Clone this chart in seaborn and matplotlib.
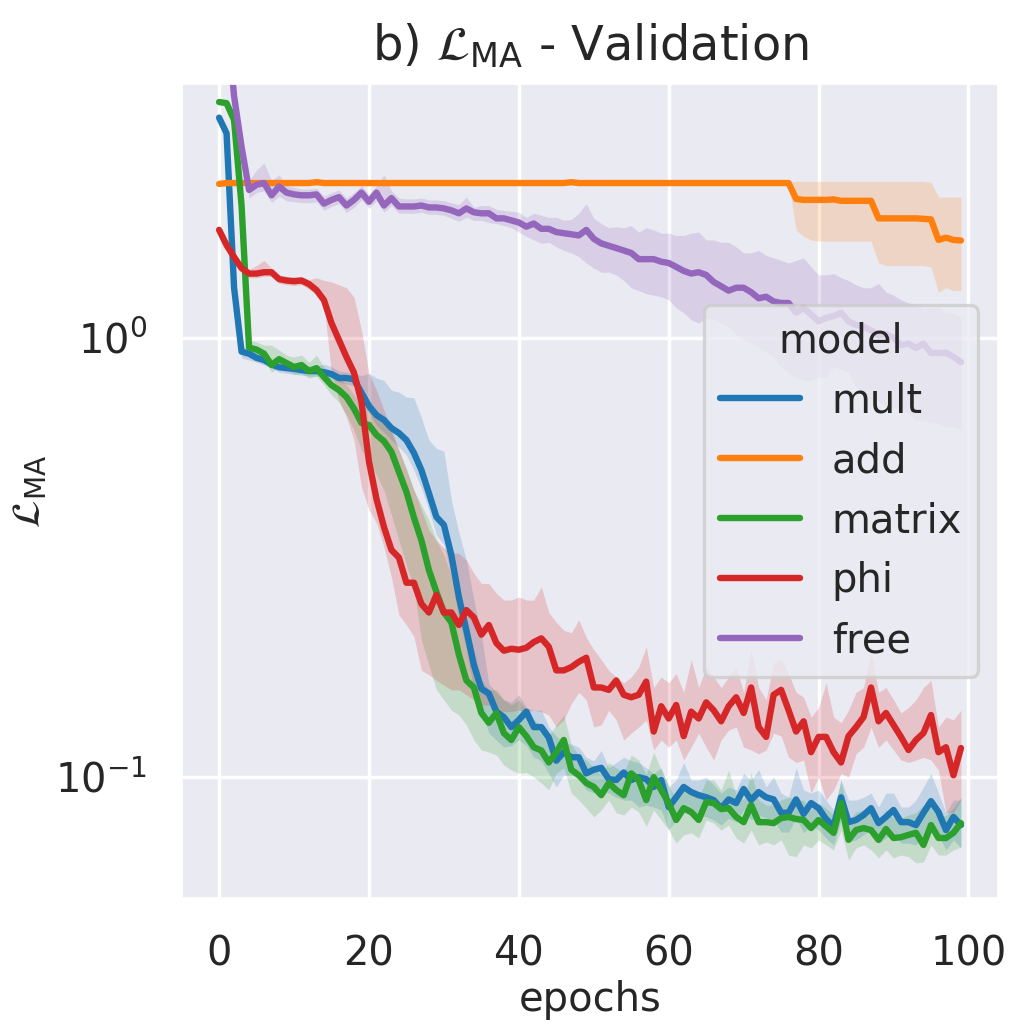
import numpy as np
import pandas as pd
import matplotlib
matplotlib.use("Agg")
import matplotlib.pyplot as plt
import seaborn as sns

sns.set_theme(style="darkgrid", font_scale=2.4, rc={
    "xtick.labelsize": 28.8, "ytick.labelsize": 28.8,
    "axes.labelsize": 28.8, "legend.fontsize": 28.8,
    "legend.title_fontsize": 28.8, "grid.linewidth": 2.5,
    "xtick.major.pad": 20, "ytick.major.pad": 19,
})

MODELS = ["mult", "add", "matrix", "phi", "free"]
COLORS = sns.color_palette("tab10", 5)
epochs = np.arange(100)

# --- validation loss per model: median line, band low / band high ---
mult_mid = [3.17, 2.92, 1.30, 0.93, 0.92, 0.90, 0.89, 0.87, 0.857, 0.853,
            0.85, 0.844, 0.84, 0.84, 0.835, 0.827, 0.81, 0.81, 0.805, 0.75,
            0.70, 0.667, 0.65, 0.623, 0.607, 0.585, 0.547, 0.50, 0.443, 0.391,
            0.375, 0.32, 0.257, 0.216, 0.18, 0.159, 0.155, 0.141, 0.137, 0.13,
            0.135, 0.141, 0.13, 0.13, 0.123, 0.109, 0.114, 0.111, 0.111, 0.102,
            0.104, 0.105, 0.099, 0.0985, 0.1025, 0.0985, 0.1, 0.099, 0.095, 0.0985,
            0.0855, 0.09, 0.095, 0.0925, 0.091, 0.09, 0.0887, 0.085, 0.089, 0.0873,
            0.094, 0.0887, 0.0925, 0.09, 0.089, 0.083, 0.083, 0.089, 0.0825, 0.0873,
            0.085, 0.0803, 0.0773, 0.09, 0.079, 0.0799, 0.082, 0.085, 0.0786, 0.0812,
            0.0842, 0.079, 0.079, 0.0778, 0.083, 0.0882, 0.0833, 0.0758, 0.0812, 0.0778]
mult_hi = [3.2, 2.95, 1.32, 0.955, 0.945, 0.925, 0.915, 0.895, 0.88, 0.876,
           0.873, 0.867, 0.863, 0.863, 0.87, 0.86, 0.84, 0.835, 0.83, 0.82,
           0.83, 0.81, 0.80, 0.76, 0.752, 0.733, 0.73, 0.657, 0.585, 0.56,
           0.552, 0.427, 0.36, 0.312, 0.253, 0.211, 0.163, 0.156, 0.15, 0.148,
           0.154, 0.144, 0.142, 0.142, 0.13, 0.124, 0.12, 0.119, 0.117, 0.111,
           0.109, 0.115, 0.105, 0.108, 0.111, 0.109, 0.108, 0.105, 0.102, 0.105,
           0.095, 0.0985, 0.108, 0.0985, 0.0985, 0.1, 0.096, 0.092, 0.095, 0.0935,
           0.102, 0.0985, 0.104, 0.095, 0.1, 0.092, 0.09, 0.105, 0.0935, 0.092,
           0.0935, 0.0887, 0.0842, 0.0985, 0.0887, 0.0887, 0.09, 0.092, 0.0855, 0.092,
           0.092, 0.0855, 0.0855, 0.0887, 0.095, 0.102, 0.092, 0.083, 0.0887, 0.0887]
mult_lo = [3.14, 2.89, 1.28, 0.90, 0.89, 0.88, 0.867, 0.853, 0.835, 0.83,
           0.826, 0.822, 0.818, 0.818, 0.814, 0.805, 0.793, 0.785, 0.777, 0.72,
           0.674, 0.633, 0.61, 0.585, 0.564, 0.541, 0.50, 0.455, 0.406, 0.356,
           0.338, 0.288, 0.23, 0.195, 0.158, 0.142, 0.126, 0.1215, 0.117, 0.118,
           0.1215, 0.118, 0.111, 0.109, 0.102, 0.095, 0.101, 0.101, 0.1, 0.0935,
           0.092, 0.0935, 0.092, 0.09, 0.0887, 0.0887, 0.0855, 0.0864, 0.0855, 0.0842,
           0.0758, 0.0799, 0.083, 0.082, 0.082, 0.0812, 0.0799, 0.0778, 0.0807, 0.079,
           0.0842, 0.0799, 0.082, 0.0807, 0.0799, 0.075, 0.075, 0.0807, 0.0747, 0.0778,
           0.0758, 0.0727, 0.0701, 0.0799, 0.0712, 0.072, 0.0739, 0.0758, 0.0708, 0.0727,
           0.075, 0.0708, 0.0708, 0.0701, 0.0739, 0.0778, 0.0739, 0.0683, 0.072, 0.069]

add_mid = [2.24, 2.25, 2.25, 2.25, 2.25, 2.25, 2.25, 2.25, 2.25, 2.25,
           2.25, 2.25, 2.25, 2.26, 2.25, 2.25, 2.25, 2.25, 2.25, 2.25,
           2.25, 2.25, 2.25, 2.25, 2.25, 2.25, 2.25, 2.25, 2.25, 2.25,
           2.25, 2.25, 2.25, 2.25, 2.25, 2.25, 2.25, 2.25, 2.25, 2.25,
           2.25, 2.25, 2.25, 2.25, 2.25, 2.25, 2.25, 2.26, 2.25, 2.25,
           2.25, 2.25, 2.25, 2.25, 2.25, 2.25, 2.25, 2.25, 2.25, 2.25,
           2.25, 2.25, 2.25, 2.25, 2.25, 2.25, 2.25, 2.25, 2.25, 2.25,
           2.25, 2.25, 2.25, 2.25, 2.25, 2.25, 2.25, 2.07, 2.06, 2.06,
           2.06, 2.06, 2.065, 2.05, 2.05, 2.05, 2.05, 2.05, 1.87, 1.87,
           1.87, 1.87, 1.87, 1.87, 1.865, 1.86, 1.67, 1.69, 1.67, 1.665]
add_hi = [2.26, 2.26, 2.26, 2.26, 2.26, 2.26, 2.26, 2.26, 2.26, 2.26,
          2.26, 2.26, 2.26, 2.27, 2.26, 2.26, 2.26, 2.26, 2.26, 2.26,
          2.26, 2.26, 2.26, 2.26, 2.26, 2.26, 2.26, 2.26, 2.26, 2.26,
          2.26, 2.26, 2.26, 2.26, 2.26, 2.26, 2.26, 2.26, 2.26, 2.26,
          2.26, 2.26, 2.26, 2.26, 2.26, 2.26, 2.26, 2.27, 2.26, 2.26,
          2.26, 2.26, 2.26, 2.26, 2.26, 2.26, 2.26, 2.26, 2.26, 2.26,
          2.26, 2.26, 2.26, 2.26, 2.26, 2.26, 2.26, 2.26, 2.26, 2.26,
          2.26, 2.26, 2.26, 2.26, 2.26, 2.26, 2.26, 2.27, 2.27, 2.27,
          2.27, 2.27, 2.27, 2.27, 2.27, 2.27, 2.27, 2.27, 2.27, 2.27,
          2.27, 2.27, 2.27, 2.27, 2.27, 2.26, 2.09, 2.09, 2.09, 2.09]
add_lo = [2.23, 2.24, 2.24, 2.24, 2.24, 2.24, 2.24, 2.24, 2.24, 2.24,
          2.24, 2.24, 2.24, 2.25, 2.24, 2.24, 2.24, 2.24, 2.24, 2.24,
          2.24, 2.24, 2.24, 2.24, 2.24, 2.24, 2.24, 2.24, 2.24, 2.24,
          2.24, 2.24, 2.24, 2.24, 2.24, 2.24, 2.24, 2.24, 2.24, 2.24,
          2.24, 2.24, 2.24, 2.24, 2.24, 2.24, 2.24, 2.25, 2.24, 2.24,
          2.24, 2.24, 2.24, 2.24, 2.24, 2.24, 2.24, 2.24, 2.24, 2.24,
          2.24, 2.24, 2.24, 2.24, 2.24, 2.24, 2.24, 2.24, 2.24, 2.24,
          2.24, 2.24, 2.24, 2.24, 2.24, 2.24, 2.24, 1.76, 1.70, 1.67,
          1.66, 1.66, 1.66, 1.66, 1.66, 1.66, 1.66, 1.66, 1.48, 1.46,
          1.46, 1.46, 1.46, 1.46, 1.46, 1.45, 1.27, 1.30, 1.28, 1.28]

matrix_mid = [3.44, 3.42, 3.13, 2.0, 0.95, 0.94, 0.92, 0.867, 0.894, 0.876,
              0.858, 0.867, 0.84, 0.853, 0.814, 0.78, 0.76, 0.733, 0.69, 0.64,
              0.633, 0.601, 0.582, 0.55, 0.495, 0.446, 0.39, 0.346, 0.296, 0.264,
              0.237, 0.225, 0.19, 0.166, 0.16, 0.14, 0.133, 0.14, 0.126, 0.1215,
              0.13, 0.124, 0.117, 0.115, 0.108, 0.114, 0.1215, 0.104, 0.101, 0.097,
              0.095, 0.091, 0.097, 0.0935, 0.091, 0.102, 0.0985, 0.0887, 0.1, 0.0935,
              0.0873, 0.0799, 0.085, 0.0833, 0.0799, 0.0878, 0.0873, 0.0846, 0.085, 0.0812,
              0.079, 0.0864, 0.079, 0.079, 0.0786, 0.0807, 0.0812, 0.0803, 0.0799, 0.0766,
              0.0799, 0.0773, 0.0747, 0.0873, 0.072, 0.0758, 0.0766, 0.0758, 0.072, 0.0762,
              0.0727, 0.073, 0.0739, 0.0747, 0.0701, 0.0778, 0.0727, 0.0727, 0.0747, 0.0786]
matrix_hi = [3.48, 3.46, 3.2, 2.1, 0.988, 0.978, 0.962, 0.962, 0.938, 0.913,
             0.904, 0.913, 0.88, 0.913, 0.857, 0.83, 0.81, 0.781, 0.741, 0.703,
             0.685, 0.657, 0.633, 0.61, 0.555, 0.505, 0.45, 0.416, 0.385, 0.346,
             0.32, 0.288, 0.253, 0.216, 0.195, 0.166, 0.158, 0.158, 0.15, 0.146,
             0.15, 0.142, 0.135, 0.1315, 0.1247, 0.1315, 0.1385, 0.1184, 0.1123, 0.1094,
             0.105, 0.1012, 0.108, 0.105, 0.1025, 0.1123, 0.1094, 0.1012, 0.114, 0.1038,
             0.096, 0.0887, 0.0935, 0.0935, 0.0895, 0.0985, 0.0985, 0.0935, 0.1038, 0.0911,
             0.0887, 0.1025, 0.0887, 0.0864, 0.0864, 0.0887, 0.09, 0.0887, 0.0887, 0.0842,
             0.0873, 0.085, 0.082, 0.0985, 0.0799, 0.0833, 0.0842, 0.0833, 0.0799, 0.0842,
             0.0807, 0.0807, 0.082, 0.083, 0.0864, 0.0887, 0.0807, 0.082, 0.085, 0.09]
matrix_lo = [3.4, 3.38, 3.06, 1.9, 0.913, 0.904, 0.89, 0.835, 0.857, 0.844,
             0.826, 0.83, 0.81, 0.818, 0.781, 0.741, 0.714, 0.667, 0.617, 0.555,
             0.527, 0.487, 0.45, 0.395, 0.346, 0.304, 0.27, 0.205, 0.18, 0.158,
             0.15, 0.142, 0.1385, 0.1315, 0.1215, 0.1153, 0.114, 0.1123, 0.1066, 0.1038,
             0.102, 0.1025, 0.1, 0.097, 0.0935, 0.102, 0.105, 0.092, 0.0887, 0.085,
             0.0812, 0.0842, 0.0887, 0.083, 0.082, 0.0855, 0.0833, 0.0773, 0.0842, 0.0799,
             0.0758, 0.0708, 0.0739, 0.0747, 0.0727, 0.0799, 0.0786, 0.0758, 0.0778, 0.0727,
             0.0708, 0.0758, 0.0701, 0.0712, 0.0701, 0.072, 0.0665, 0.0659, 0.0701, 0.069,
             0.072, 0.0701, 0.0683, 0.0758, 0.0648, 0.069, 0.0701, 0.0683, 0.0655, 0.0683,
             0.0655, 0.0665, 0.0659, 0.0638, 0.0641, 0.0701, 0.0665, 0.0665, 0.0683, 0.0694]

phi_mid = [1.76, 1.625, 1.527, 1.44, 1.40, 1.40, 1.41, 1.41, 1.36, 1.35,
           1.345, 1.35, 1.325, 1.284, 1.218, 1.08, 0.988, 0.904, 0.833, 0.715,
           0.523, 0.43, 0.371, 0.329, 0.316, 0.277, 0.277, 0.248, 0.237, 0.26,
           0.237, 0.237, 0.222, 0.24, 0.231, 0.211, 0.222, 0.202, 0.194, 0.196,
           0.195, 0.197, 0.203, 0.207, 0.198, 0.175, 0.175, 0.178, 0.183, 0.187,
           0.16, 0.16, 0.158, 0.166, 0.154, 0.152, 0.154, 0.165, 0.127, 0.145,
           0.136, 0.146, 0.124, 0.141, 0.136, 0.148, 0.142, 0.134, 0.145, 0.152,
           0.14, 0.16, 0.13, 0.1235, 0.154, 0.158, 0.142, 0.127, 0.134, 0.114,
           0.1235, 0.1235, 0.114, 0.108, 0.124, 0.13, 0.137, 0.16, 0.134, 0.14,
           0.1315, 0.1235, 0.1153, 0.1215, 0.126, 0.1385, 0.114, 0.117, 0.101, 0.1165]
phi_hi = [1.8, 1.66, 1.56, 1.47, 1.43, 1.46, 1.50, 1.44, 1.39, 1.38,
          1.375, 1.38, 1.355, 1.37, 1.35, 1.34, 1.32, 1.30, 1.237, 1.04,
          0.83, 0.76, 0.685, 0.617, 0.555, 0.50, 0.45, 0.406, 0.365, 0.346,
          0.332, 0.325, 0.323, 0.312, 0.291, 0.276, 0.276, 0.262, 0.253, 0.253,
          0.257, 0.253, 0.253, 0.271, 0.237, 0.225, 0.216, 0.213, 0.228, 0.208,
          0.195, 0.185, 0.175, 0.169, 0.164, 0.169, 0.178, 0.198, 0.16, 0.169,
          0.164, 0.172, 0.156, 0.185, 0.16, 0.178, 0.169, 0.16, 0.169, 0.178,
          0.156, 0.195, 0.16, 0.15, 0.182, 0.185, 0.172, 0.156, 0.152, 0.137,
          0.144, 0.164, 0.137, 0.133, 0.142, 0.156, 0.16, 0.192, 0.156, 0.16,
          0.15, 0.14, 0.144, 0.15, 0.16, 0.166, 0.13, 0.137, 0.135, 0.142]
phi_lo = [1.72, 1.59, 1.5, 1.41, 1.37, 1.37, 1.38, 1.38, 1.33, 1.32,
          1.315, 1.32, 1.29, 1.25, 1.19, 0.83, 0.721, 0.66, 0.585, 0.457,
          0.406, 0.379, 0.334, 0.285, 0.234, 0.222, 0.209, 0.175, 0.171, 0.166,
          0.162, 0.158, 0.158, 0.154, 0.15, 0.146, 0.146, 0.142, 0.141, 0.141,
          0.142, 0.141, 0.142, 0.141, 0.1385, 0.13, 0.135, 0.147, 0.156, 0.15,
          0.13, 0.1315, 0.142, 0.135, 0.1215, 0.126, 0.13, 0.135, 0.1153, 0.1215,
          0.117, 0.1215, 0.1094, 0.117, 0.126, 0.117, 0.1094, 0.1215, 0.128, 0.13,
          0.117, 0.1153, 0.113, 0.1153, 0.126, 0.124, 0.111, 0.108, 0.1094, 0.092,
          0.1, 0.0887, 0.0935, 0.102, 0.1, 0.113, 0.117, 0.13, 0.117, 0.1215,
          0.1153, 0.1094, 0.108, 0.1094, 0.111, 0.1094, 0.1038, 0.083, 0.083, 0.0887]

free_mid = [12.0, 5.5, 3.55, 2.72, 2.17, 2.23, 2.25, 2.11, 2.21, 2.14,
            2.12, 2.11, 2.11, 2.12, 2.02, 2.06, 2.09, 2.0, 2.06, 2.14,
            2.04, 2.14, 2.0, 2.08, 1.99, 1.99, 1.99, 2.0, 1.98, 1.98,
            1.97, 1.95, 1.92, 1.97, 1.93, 1.92, 1.92, 1.87, 1.87, 1.85,
            1.83, 1.79, 1.82, 1.77, 1.77, 1.74, 1.73, 1.72, 1.71, 1.76,
            1.68, 1.64, 1.62, 1.6, 1.58, 1.56, 1.51, 1.51, 1.51, 1.49,
            1.48, 1.45, 1.42, 1.40, 1.41, 1.39, 1.34, 1.31, 1.28, 1.3,
            1.3, 1.27, 1.23, 1.24, 1.21, 1.2, 1.2, 1.14, 1.17, 1.13,
            1.09, 1.11, 1.12, 1.14, 1.09, 1.07, 1.06, 1.04, 1.014, 1.02,
            1.0, 0.962, 0.97, 0.947, 0.97, 0.923, 0.923, 0.925, 0.905, 0.88]
free_hi = [12.3, 5.6, 3.62, 2.8, 2.28, 2.41, 2.5, 2.28, 2.35, 2.22,
           2.2, 2.18, 2.18, 2.19, 2.1, 2.14, 2.17, 2.08, 2.14, 2.22,
           2.12, 2.22, 2.35, 2.16, 2.08, 2.07, 2.07, 2.08, 2.06, 2.06,
           2.05, 2.03, 2.01, 2.09, 1.98, 2.0, 2.0, 1.96, 1.95, 1.94,
           1.93, 1.88, 1.92, 1.9, 1.88, 1.88, 1.85, 1.86, 1.92, 2.02,
           1.87, 1.82, 1.78, 1.79, 1.78, 1.8, 1.74, 1.78, 1.76, 1.73,
           1.73, 1.71, 1.71, 1.73, 1.74, 1.67, 1.67, 1.65, 1.65, 1.61,
           1.56, 1.56, 1.58, 1.54, 1.52, 1.5, 1.48, 1.5, 1.52, 1.45,
           1.39, 1.39, 1.4, 1.37, 1.35, 1.32, 1.30, 1.30, 1.33, 1.27,
           1.25, 1.22, 1.2, 1.19, 1.16, 1.17, 1.175, 1.14, 1.14, 1.11]
free_lo = [11.7, 5.4, 3.48, 2.65, 2.08, 2.14, 2.16, 2.03, 2.1, 2.05,
           2.04, 2.03, 2.03, 2.04, 1.95, 1.99, 2.02, 1.93, 1.98, 2.06,
           1.97, 2.05, 1.93, 2.0, 1.92, 1.92, 1.92, 1.93, 1.91, 1.91,
           1.9, 1.87, 1.84, 1.88, 1.85, 1.85, 1.83, 1.82, 1.8, 1.78,
           1.74, 1.7, 1.67, 1.64, 1.65, 1.61, 1.58, 1.56, 1.53, 1.48,
           1.44, 1.41, 1.41, 1.39, 1.35, 1.30, 1.28, 1.26, 1.25, 1.24,
           1.22, 1.17, 1.14, 1.10, 1.08, 1.11, 1.1, 1.08, 1.06, 1.02,
           0.988, 0.978, 0.952, 0.928, 0.904, 0.858, 0.831, 0.814, 0.80, 0.80,
           0.814, 0.814, 0.858, 0.853, 0.831, 0.772, 0.748, 0.721, 0.721, 0.695,
           0.695, 0.685, 0.674, 0.65, 0.65, 0.64, 0.64, 0.627, 0.627, 0.617]

SERIES = {
    "mult": (mult_mid, mult_lo, mult_hi),
    "add": (add_mid, add_lo, add_hi),
    "matrix": (matrix_mid, matrix_lo, matrix_hi),
    "phi": (phi_mid, phi_lo, phi_hi),
    "free": (free_mid, free_lo, free_hi),
}

df = pd.concat(
    [pd.DataFrame({"epoch": epochs, "model": m, "loss": SERIES[m][0]}) for m in MODELS],
    ignore_index=True,
)

fig, ax = plt.subplots(figsize=(10.15, 10.30), dpi=100)
fig.subplots_adjust(left=0.1793, right=0.9833, top=0.9184, bottom=0.1282)

sns.lineplot(data=df, x="epoch", y="loss", hue="model", hue_order=MODELS,
             palette=COLORS, linewidth=4.6, errorbar=None, ax=ax)

# bandes d'incertitude
for m, c in zip(MODELS, COLORS):
    _, lo, hi = SERIES[m]
    ax.fill_between(epochs, lo, hi, color=c, alpha=0.2, linewidth=0, zorder=1)

ax.set_yscale("log")
ax.set_ylim(0.0531, 3.78)
ax.set_xlim(-4.95, 103.95)
ax.set_title(r"b) $\mathcal{L}_{\mathrm{MA}}$ - Validation", fontsize=34.5, pad=17)
ax.set_xlabel("epochs")
ax.set_ylabel(r"$\mathcal{L}_{\mathrm{MA}}$")
sns.move_legend(ax, "center right", title="model")
ax.get_legend().get_frame().set_linewidth(2.4)

fig.savefig("out.png", dpi=100)
